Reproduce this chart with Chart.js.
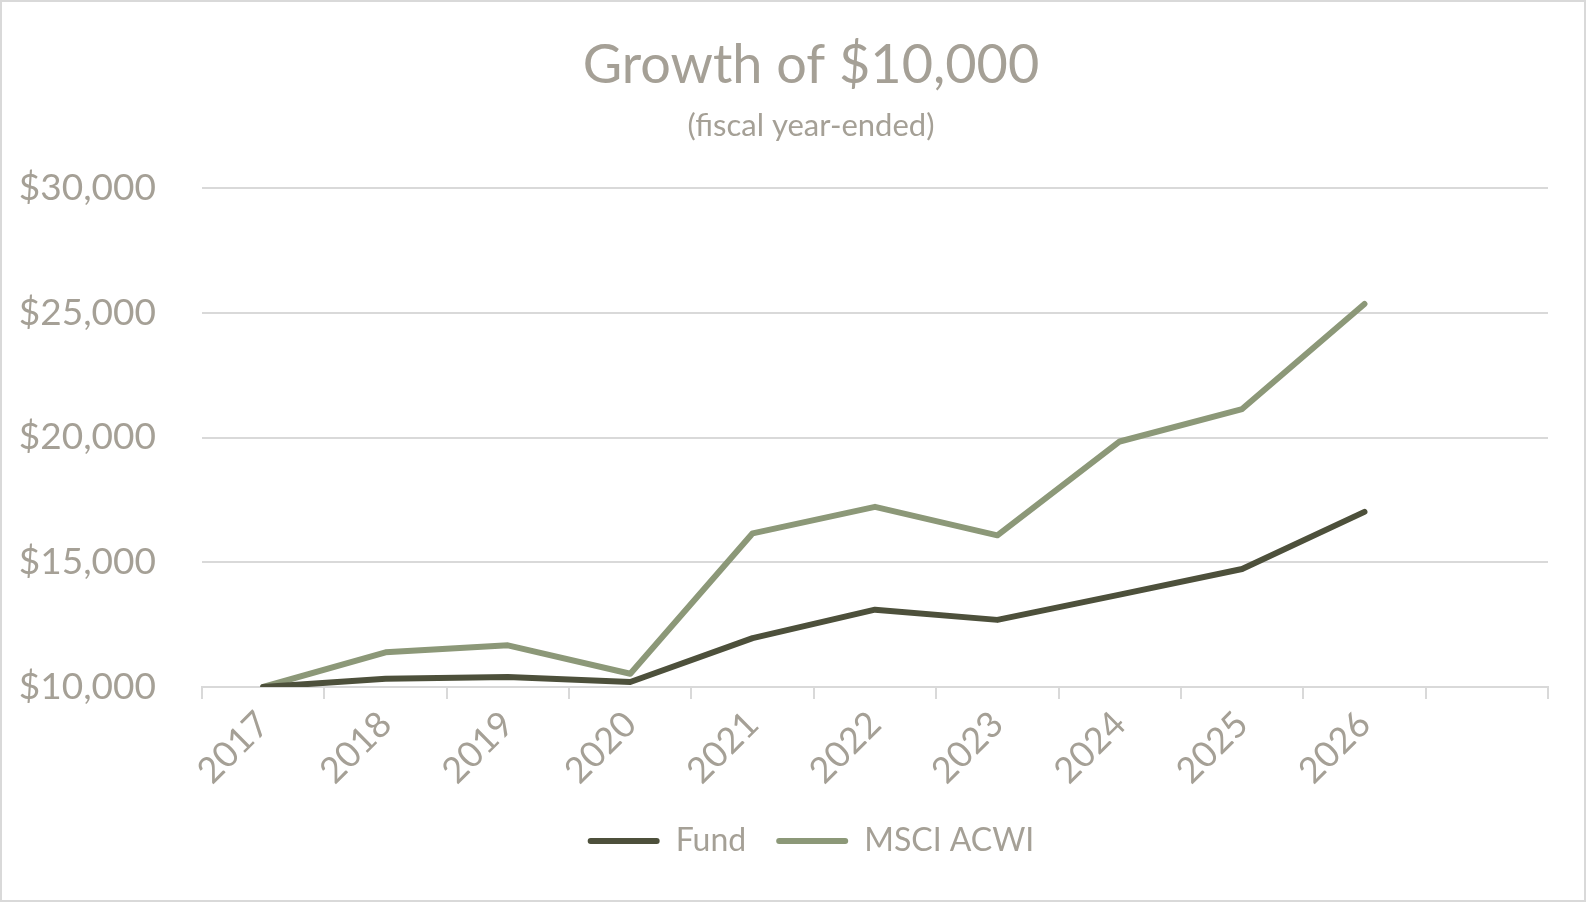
<!DOCTYPE html>
<html>
<head>
<meta charset="utf-8">
<script src="https://cdn.jsdelivr.net/npm/chart.js@4"></script>
<style>
  html, body { margin: 0; padding: 0; background: #fff; overflow: hidden; }
  .wrap { width: 1586px; height: 902px; box-sizing: border-box; border: 2px solid #d9d9d9; }
</style>
</head>
<body>
<div class="wrap"><canvas id="growthChart"></canvas></div>
<script>
  // fiscal years; the trailing blank is an empty slot Excel left on the axis
  const years = ['2017', '2018', '2019', '2020', '2021', '2022', '2023', '2024', '2025', '2026', ''];
  const fundValues = [10000, 10330, 10400, 10200, 11960, 13100, 12690, 13700, 14730, 17020];
  const msciValues = [10000, 11390, 11670, 10530, 16160, 17220, 16080, 19840, 21140, 25350];
  const yMin = 10000;
  const yMax = 30000;
  const yStep = 5000;

  const textColor = '#a5a096';
  const gridColor = '#d9d9d9';
  const fontFamily = 'Lato, "Open Sans", sans-serif';

  const ctx = document.getElementById('growthChart');
  new Chart(ctx, {
    type: 'line',
    data: {
      labels: years,
      datasets: [{
        label: 'Fund',
        data: fundValues,
        borderColor: '#4d503b',
        backgroundColor: '#4d503b',
        borderWidth: 6,
        pointRadius: 0,
        tension: 0,
        borderCapStyle: 'round',
        borderJoinStyle: 'round'
      }, {
        label: 'MSCI ACWI',
        data: msciValues,
        borderColor: '#8c9878',
        backgroundColor: '#8c9878',
        borderWidth: 6,
        pointRadius: 0,
        tension: 0,
        borderCapStyle: 'round',
        borderJoinStyle: 'round'
      }]
    },
    options: {
      responsive: true,
      maintainAspectRatio: false,
      animation: false,
      // negative right padding + empty right axis: title/legend sit a bit right of centre like the original
      layout: { padding: { left: 0, right: -36, top: 0, bottom: 33 } },
      scales: {
        x: {
          offset: true,
          grid: { offset: true, drawOnChartArea: false, drawTicks: true, tickLength: 12, color: gridColor, lineWidth: 2 },
          border: { display: true, color: gridColor, width: 2 },
          ticks: {
            color: textColor,
            font: { family: fontFamily, size: 36 },
            maxRotation: 45,
            minRotation: 45,
            autoSkip: false,
            padding: 4
          },
          afterFit: (scale) => { scale.height = 108; }
        },
        y: {
          min: yMin,
          max: yMax,
          grid: { color: gridColor, lineWidth: 2, drawTicks: false },
          border: { display: false },
          ticks: {
            stepSize: yStep,
            color: textColor,
            padding: 46,
            font: { family: fontFamily, size: 37 },
            callback: (v) => '$' + v.toLocaleString('en-US')
          },
          afterFit: (scale) => { scale.width = 200; }
        },
        spacer: {
          type: 'linear',
          position: 'right',
          grid: { display: false },
          border: { display: false },
          ticks: { display: false },
          afterFit: (scale) => { scale.width = 72; }
        }
      },
      plugins: {
        title: {
          display: true,
          text: 'Growth of $10,000',
          color: textColor,
          font: { family: fontFamily, size: 54, weight: 'normal' },
          padding: { top: 31, bottom: 2 }
        },
        subtitle: {
          display: true,
          text: '(fiscal year-ended)',
          color: textColor,
          font: { family: fontFamily, size: 31, weight: 'normal' },
          padding: { top: 8, bottom: 43 }
        },
        legend: {
          position: 'bottom',
          labels: {
            color: textColor,
            font: { family: fontFamily, size: 32 },
            boxWidth: 72,
            boxHeight: 6,
            padding: 30,
            useBorderRadius: true,
            borderRadius: 3,
            generateLabels: (chart) => Chart.defaults.plugins.legend.labels.generateLabels(chart)
              .map(item => Object.assign(item, { lineWidth: 0 }))
          }
        },
        tooltip: { enabled: false }
      }
    }
  });
</script>
</body>
</html>
